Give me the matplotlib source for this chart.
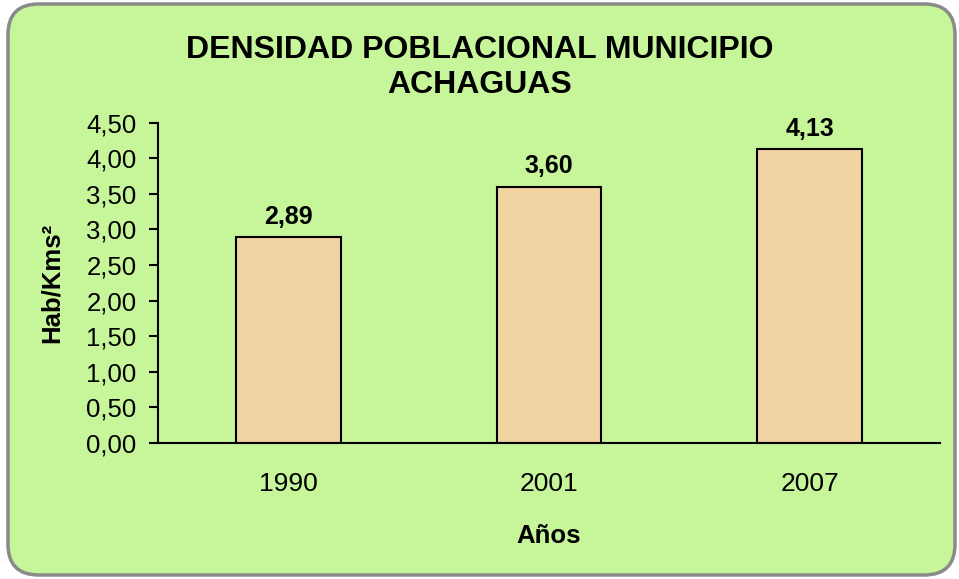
import matplotlib.pyplot as plt
from matplotlib.patches import FancyBboxPatch

plt.rcParams['font.family'] = ['Liberation Sans', 'DejaVu Sans']

# data
years = ['1990', '2001', '2007']
densidad = [2.89, 3.60, 4.13]
yticks = [0.0, 0.5, 1.0, 1.5, 2.0, 2.5, 3.0, 3.5, 4.0, 4.5]

fig = plt.figure(figsize=(9.59, 5.79), dpi=100)
fig.patch.set_facecolor('white')

# green rounded frame behind the chart
frame = FancyBboxPatch((8 / 959, 4 / 579), 947 / 959, 571 / 579,
                       boxstyle='round,pad=0,rounding_size=0.032',
                       transform=fig.transFigure, facecolor='#c6f59a',
                       edgecolor='#8a8a8a', linewidth=2.5, zorder=-5,
                       mutation_aspect=959 / 579)
fig.patches.append(frame)

ax = fig.add_axes([0.165, 0.235, 0.815, 0.553])
ax.set_facecolor('none')

bars = ax.bar(years, densidad, width=0.4, color='#f2d3a2',
              edgecolor='black', linewidth=1.5)

for b, v in zip(bars, densidad):
    ax.text(b.get_x() + b.get_width() / 2, v + 0.12,
            f'{v:.2f}'.replace('.', ','), ha='center', va='bottom',
            fontsize=18, fontweight='bold')

ax.set_ylim(0, 4.5)
ax.set_xlim(-0.5, 2.5)
ax.set_yticks(yticks)
ax.set_yticklabels([f'{t:.2f}'.replace('.', ',') for t in yticks])
ax.tick_params(axis='y', labelsize=18.5, length=6.5, width=1.5, pad=9)
ax.tick_params(axis='x', labelsize=19, length=0, pad=21)

for s in ['top', 'right']:
    ax.spines[s].set_visible(False)
ax.spines['left'].set_linewidth(1.5)
ax.spines['bottom'].set_linewidth(1.5)

ax.set_xlabel('Años', fontsize=18.5, fontweight='bold', labelpad=20)
ax.set_ylabel('Hab/Kms²', fontsize=18.5, fontweight='bold', labelpad=16)

fig.text(0.5, 0.883, 'DENSIDAD POBLACIONAL MUNICIPIO\nACHAGUAS',
         ha='center', va='center', fontsize=23, fontweight='bold',
         linespacing=1.22)

fig.savefig('out.png', dpi=100)
